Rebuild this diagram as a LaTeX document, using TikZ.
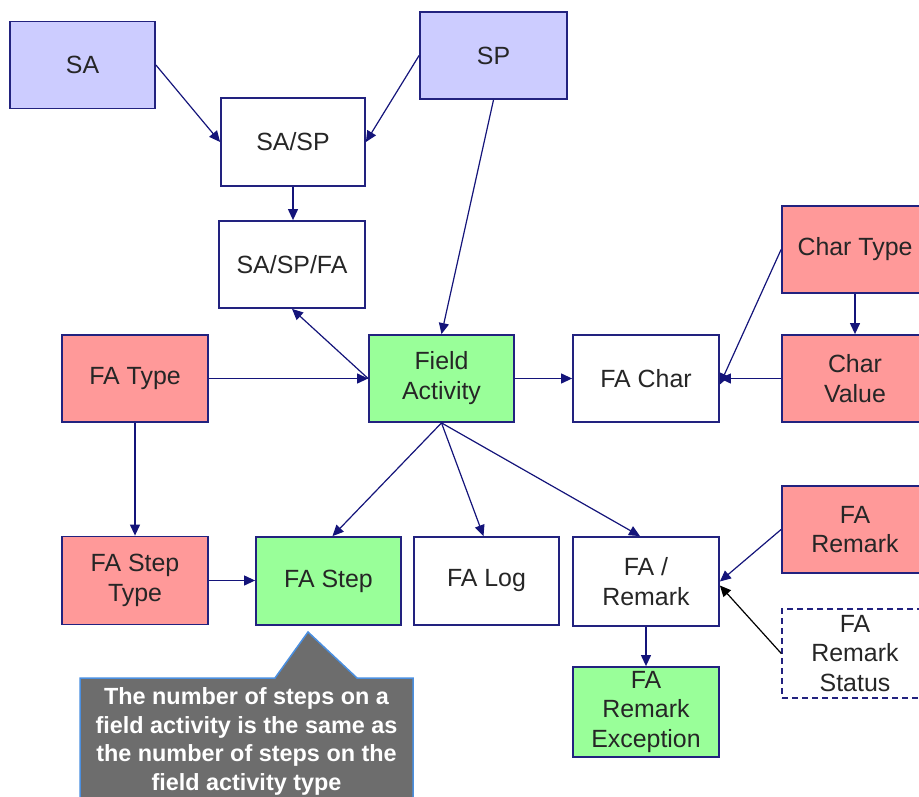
\documentclass[tikz,border=0pt]{standalone}
\usepackage{fontspec}
\setmainfont{Liberation Sans}
\usetikzlibrary{arrows.meta}
\definecolor{bluefill}{HTML}{CCCCFF}
\definecolor{pinkfill}{HTML}{FF9999}
\definecolor{greenfill}{HTML}{99FF99}
\definecolor{navy}{HTML}{22227F}
\definecolor{arrownavy}{HTML}{14147A}
\definecolor{calloutgray}{HTML}{6D6D6D}
\definecolor{calloutblue}{HTML}{4A8FE0}
\begin{document}
\begin{tikzpicture}[x=1bp,y=-1bp,
  box/.style={draw=navy, line width=1.8bp, fill=white, minimum width=145bp, minimum height=87bp,
    inner sep=0pt, align=center, font=\fontsize{25}{30}\selectfont, text=black!85},
  bluebox/.style={box, fill=bluefill},
  pinkbox/.style={box, fill=pinkfill},
  greenbox/.style={box, fill=greenfill},
  conn/.style={draw=arrownavy, line width=1.2bp, -{Triangle[length=11bp,width=10bp]}},
  bconn/.style={draw=black, line width=1.2bp, -{Triangle[length=11bp,width=10bp]}}
]
\useasboundingbox (0,0) rectangle (919,797);
\begin{scope}
\clip (0,0) rectangle (919,797);
% nodes
\node[bluebox] (sa) at (82.5,65) {SA};
\node[bluebox, minimum width=147bp] (sp) at (493.5,55.5) {SP};
\node[box, minimum width=144bp, minimum height=88bp] (sasp) at (293,142) {SA/SP};
\node[box, minimum width=146bp] (saspfa) at (292,264.5) {SA/SP/FA};
\node[greenbox] (fa) at (441.5,378.5) {Field\\Activity};
\node[box, minimum width=146bp] (fachar) at (646,378.5) {FA Char};
\node[pinkbox, minimum width=146bp] (chartype) at (855,249.5) {Char Type};
\node[pinkbox, minimum width=146bp] (charval) at (855,378.5) {Char\\Value};
\node[pinkbox, minimum width=146bp] (fatype) at (135,378.5) {FA Type};
\node[pinkbox, minimum width=146bp, minimum height=88bp] (fasteptype) at (135,580.5) {FA Step\\Type};
\node[greenbox, minimum height=88bp] (fastep) at (328.5,581) {FA Step};
\node[box, minimum height=88bp] (falog) at (486.5,581) {FA Log};
\node[box, minimum width=146bp, minimum height=89bp] (faremark) at (646,581.5) {FA /\\Remark};
\node[pinkbox, minimum width=146bp] (remark) at (855,529.5) {FA\\Remark};
\node[box, dash pattern=on 6bp off 4bp, line width=1.4bp, minimum width=146bp, minimum height=89bp] (remstat) at (855,653.5) {FA\\Remark\\Status};
\node[greenbox, minimum width=146bp, minimum height=90bp] (remexc) at (646,712) {FA\\Remark\\Exception};
% connectors
\draw[conn] (sa.east) -- (sasp.west);
\draw[conn] (sp.west) -- (sasp.east);
\draw[conn] (sp.south) -- (fa.north);
\draw[conn] (sasp.south) -- (sasp.south |- saspfa.north);
\draw[conn] (fa.west) -- (saspfa.south);
\draw[conn] (fatype.east) -- (fa.west);
\draw[conn] (fa.east) -- (fachar.west);
\draw[conn] (charval.west) -- (fachar.east);
\draw[conn] (chartype.west) -- ([yshift=-6bp]fachar.east);
\draw[conn] (chartype.south) -- (charval.north);
\draw[conn] (fatype.south) -- (fasteptype.north);
\draw[conn] (fasteptype.east) -- (fastep.west |- fasteptype.east);
\draw[conn] (fa.south) -- ([xshift=4bp]fastep.north);
\draw[conn] (fa.south) -- ([xshift=-3bp]falog.north);
\draw[conn] (fa.south) -- ([xshift=-6bp]faremark.north);
\draw[conn] (remark.west) -- (faremark.east);
\draw[bconn] (remstat.west) -- ([yshift=-4bp]faremark.east);
\draw[conn] (faremark.south) -- (remexc.north);
% callout
\coordinate (cl) at (80,678);
\coordinate (cp1) at (275,678);
\coordinate (ctip) at (308,632);
\coordinate (cp2) at (357,678);
\coordinate (cr) at (413,678);
\draw[fill=calloutgray, draw=calloutblue, line width=1.5bp]
  (cl) -- (cp1) -- (ctip) -- (cp2) -- (cr) -- (413,805) -- (80,805) -- cycle;
\node[text=white, align=center, font=\fontsize{23.5}{28.5}\selectfont\bfseries] (note) at (246.5,741.5)
  {The number of steps on a\\field activity is the same as\\the number of steps on the\\field activity type};
\end{scope}
\end{tikzpicture}
\end{document}
